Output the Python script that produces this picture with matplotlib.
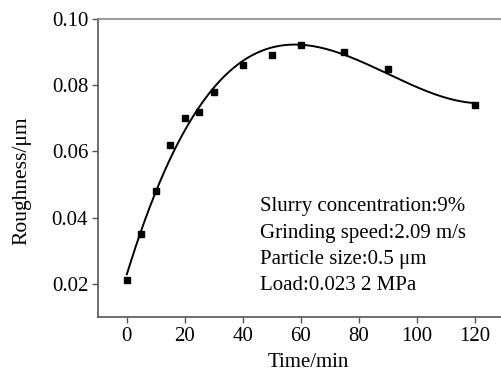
import numpy as np
import matplotlib
matplotlib.use('Agg')
import matplotlib.pyplot as plt

# --- Data ---
time_min = [0, 5, 10, 15, 20, 25, 30, 40, 50, 60, 75, 90, 120]
roughness = [0.021, 0.035, 0.048, 0.062, 0.070, 0.072, 0.078,
             0.086, 0.089, 0.092, 0.090, 0.085, 0.074]
x_ticks = [0, 20, 40, 60, 80, 100, 120]
y_ticks = [0.02, 0.04, 0.06, 0.08, 0.10]
notes = ['Slurry concentration:9%',
         'Grinding speed:2.09 m/s',
         'Particle size:0.5 \u03bcm',
         'Load:0.023 2 MPa']

plt.rcParams['font.family'] = ['Liberation Serif', 'DejaVu Serif']

fig = plt.figure(figsize=(5.02, 3.71), dpi=100)
ax = fig.add_axes([0.195, 0.146, 1.032 - 0.195, 0.9488 - 0.146])

# smooth fitted trend through the measured points
coef = np.polyfit(time_min, roughness, 3)
xs = np.linspace(min(time_min), max(time_min), 300)
ax.plot(xs, np.polyval(coef, xs), color='black', lw=1.4)
ax.plot(time_min, roughness, 's', color='black', ms=4.5)

ax.set_xlim(-10, 135)
ax.set_ylim(0.01, 0.10)
ax.set_xticks(x_ticks)
ax.set_yticks(y_ticks)
ax.set_yticklabels([f'{v:.2f}' for v in y_ticks])
ax.tick_params(direction='out', length=4, width=1, colors='#555555',
               labelcolor='black', labelsize=15, pad=3)

for s in ['left', 'bottom']:
    ax.spines[s].set_color('#555555')
    ax.spines[s].set_linewidth(1.2)
ax.spines['top'].set_color('#888888')
ax.spines['top'].set_linewidth(1.2)
ax.spines['right'].set_visible(False)

ax.set_xlabel('Time/min', fontsize=15, labelpad=5)
ax.set_ylabel('Roughness/\u03bcm', fontsize=15.5)
ax.yaxis.set_label_coords(-0.157, 0.456)

for i, t in enumerate(notes):
    fig.text(260 / 502, 1 - (207 + 26.3 * i) / 371, t, fontsize=15,
             ha='left', va='center')

fig.savefig('out.png', dpi=100)
